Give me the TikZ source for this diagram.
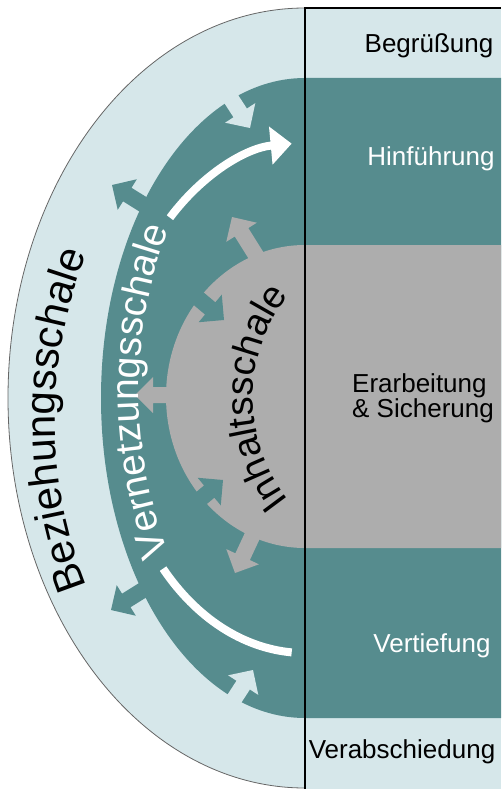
\documentclass[tikz,border=0pt]{standalone}
\usepackage{fontspec}
\setmainfont{Liberation Sans}
\usetikzlibrary{arrows.meta,decorations.text}
\definecolor{shellbg}{HTML}{D6E7EA}
\definecolor{shellteal}{HTML}{568C8E}
\definecolor{shellgray}{HTML}{ADADAD}
\newcommand\bandfont{\fontsize{26}{30}\selectfont}
\tikzset{pics/shellarrow/.style={code={\fill (0,0) -- (-18,18) -- (-18,8) -- (-50,8) -- (-50,-8) -- (-18,-8) -- (-18,-18) -- cycle;}}}

\begin{document}
\begin{tikzpicture}[x=1pt,y=1pt,
  flow/.style={white,line width=8pt},
  shelltext/.style 2 args={decorate,decoration={text along path,text align=center,text={|\fontsize{#1}{#1}\selectfont|#2}}}]
\useasboundingbox (0,0) rectangle (501,-789);
\fill[shellbg] (305,-8) arc[start angle=90,end angle=270,x radius=297,y radius=390] -- cycle;
\fill[shellbg] (305,-8) rectangle (501,-789);
\draw[black!60,line width=0.8pt] (305,-8) arc[start angle=90,end angle=270,x radius=297,y radius=390];
\fill[shellteal] (305,-78) arc[start angle=90,end angle=270,x radius=204,y radius=320] -- (501,-718) -- (501,-78) -- cycle;
\fill[shellgray] (305,-245) arc[start angle=90,end angle=270,x radius=139,y radius=151.5] -- (501,-548) -- (501,-245) -- cycle;
% arrows between the shells
\foreach \x/\y/\a in {112/185/148, 111/610/212, 224/320/-40, 223/480/40}
  \pic[fill=shellteal,rotate=\a] at (\x,-\y) {shellarrow};
\foreach \x/\y/\a in {250/128/-57, 253/670/57}
  \pic[fill=shellbg,rotate=\a] at (\x,-\y) {shellarrow};
\foreach \x/\y/\a in {232/217/122, 135/395/180, 235/573/-115}
  \pic[fill=shellgray,rotate=\a] at (\x,-\y) {shellarrow};
\draw[flow,-{Triangle[length=21pt,width=37pt]}] (305,-398) ++(135:191 and 255) arc[start angle=135,end angle=94,x radius=191,y radius=255];
\draw[flow] (305,-398) ++(222:191 and 255) arc[start angle=222,end angle=266,x radius=191,y radius=255];
\draw[line width=1.4pt] (305,-789) -- (305,-8) -- (501,-8);
\node[anchor=base] (begr) at (429,-53) {\bandfont Begrüßung};
\node[anchor=base,white] (hinf) at (431,-165) {\bandfont Hinführung};
\node[anchor=west,align=left,inner sep=0] (erarb) at (352,-398) {\bandfont Erarbeitung\\\bandfont \& Sicherung};
\node[anchor=base,white] (vert) at (432,-652) {\bandfont Vertiefung};
\node[anchor=base] (verab) at (402,-758) {\bandfont Verabschiedung};
\path[shelltext={42}{Beziehungsschale}] (505,-420) ++(202:450) arc[start angle=202,end angle=158,radius=450];
\path[shelltext={39}{Vernetzungsschale},decoration={text color=white}] (599,-391) ++(205:460) arc[start angle=205,end angle=155,radius=460];
\path[shelltext={38}{Inhaltsschale}] (418,-398) ++(230:165) arc[start angle=230,end angle=130,radius=165];
\end{tikzpicture}
\end{document}
